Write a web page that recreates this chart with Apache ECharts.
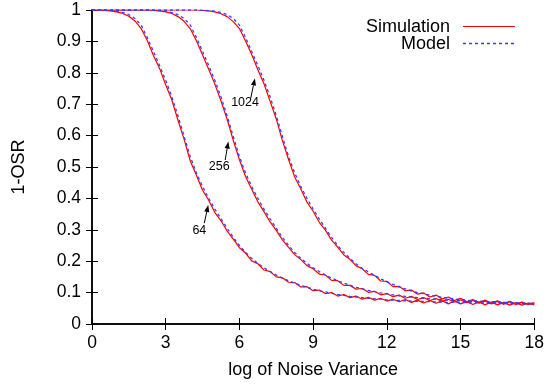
<!DOCTYPE html>
<html>
<head>
<meta charset="utf-8">
<script src="https://cdn.jsdelivr.net/npm/echarts@6/dist/echarts.min.js"></script>
<style>html,body{margin:0;padding:0;background:#fff}#c{width:547px;height:388px}</style>
</head>
<body>
<div id="c"></div>
<script>
// ---- data ----
const xs = [0,0.25,0.5,0.75,1,1.25,1.5,1.75,2,2.25,2.5,2.75,3,3.25,3.5,3.75,4,4.25,4.5,4.75,5,5.25,5.5,5.75,6,6.25,6.5,6.75,7,7.25,7.5,7.75,8,8.25,8.5,8.75,9,9.25,9.5,9.75,10,10.25,10.5,10.75,11,11.25,11.5,11.75,12,12.25,12.5,12.75,13,13.25,13.5,13.75,14,14.25,14.5,14.75,15,15.25,15.5,15.75,16,16.25,16.5,16.75,17,17.25,17.5,17.75,18];

const model64 = [1.000,1.000,0.999,0.998,0.996,0.992,0.985,0.973,0.952,0.912,0.868,0.823,0.776,0.723,0.663,0.597,0.533,0.481,0.438,0.400,0.366,0.335,0.305,0.276,0.250,0.228,0.209,0.193,0.179,0.167,0.156,0.146,0.138,0.130,0.123,0.117,0.111,0.106,0.102,0.098,0.094,0.091,0.088,0.086,0.084,0.082,0.080,0.079,0.077,0.076,0.075,0.074,0.073,0.072,0.072,0.071,0.070,0.070,0.069,0.069,0.068,0.068,0.067,0.067,0.066,0.066,0.066,0.065,0.065,0.065,0.064,0.064,0.064];

const sim64 = [1.000,1.000,0.999,0.997,0.994,0.989,0.980,0.965,0.941,0.903,0.855,0.814,0.762,0.713,0.649,0.588,0.519,0.474,0.426,0.394,0.355,0.329,0.296,0.270,0.243,0.226,0.201,0.192,0.172,0.167,0.150,0.147,0.133,0.132,0.118,0.119,0.106,0.108,0.097,0.100,0.089,0.094,0.084,0.089,0.079,0.085,0.076,0.082,0.073,0.079,0.071,0.078,0.069,0.076,0.067,0.075,0.066,0.074,0.064,0.073,0.064,0.072,0.062,0.071,0.061,0.070,0.061,0.069,0.060,0.068,0.060,0.067,0.061];

const model256 = [1.000,1.000,1.000,1.000,1.000,1.000,1.000,1.000,1.000,1.000,0.999,0.998,0.996,0.992,0.985,0.973,0.952,0.912,0.868,0.823,0.776,0.723,0.663,0.597,0.533,0.481,0.438,0.400,0.366,0.335,0.305,0.276,0.250,0.228,0.209,0.193,0.179,0.167,0.156,0.146,0.138,0.130,0.123,0.117,0.112,0.107,0.103,0.099,0.096,0.093,0.090,0.088,0.086,0.084,0.082,0.080,0.079,0.077,0.076,0.075,0.074,0.073,0.072,0.071,0.070,0.069,0.069,0.068,0.067,0.067,0.066,0.066,0.065];

const sim256 = [1.000,1.000,1.000,1.000,1.000,1.000,1.000,1.000,1.000,1.000,0.999,0.997,0.994,0.989,0.979,0.964,0.940,0.902,0.857,0.811,0.764,0.710,0.652,0.585,0.523,0.470,0.429,0.389,0.358,0.325,0.298,0.268,0.244,0.221,0.205,0.186,0.176,0.159,0.156,0.139,0.138,0.123,0.123,0.111,0.113,0.101,0.104,0.093,0.097,0.087,0.092,0.082,0.088,0.078,0.084,0.075,0.081,0.072,0.079,0.070,0.077,0.068,0.075,0.066,0.073,0.064,0.072,0.063,0.071,0.062,0.069,0.062,0.067];

const model1024 = [1.000,1.000,1.000,1.000,1.000,1.000,1.000,1.000,1.000,1.000,1.000,1.000,1.000,1.000,1.000,1.000,1.000,1.000,0.999,0.998,0.996,0.992,0.985,0.973,0.952,0.912,0.868,0.823,0.776,0.723,0.663,0.597,0.533,0.481,0.438,0.400,0.366,0.335,0.305,0.276,0.250,0.228,0.209,0.192,0.177,0.166,0.155,0.144,0.134,0.126,0.118,0.112,0.105,0.100,0.096,0.092,0.088,0.085,0.082,0.080,0.078,0.076,0.074,0.073,0.072,0.071,0.070,0.069,0.068,0.067,0.066,0.066,0.065];

const sim1024 = [1.000,1.000,1.000,1.000,1.000,1.000,1.000,1.000,1.000,1.000,1.000,1.000,1.000,1.000,1.000,1.000,1.000,1.000,0.999,0.997,0.994,0.988,0.979,0.963,0.941,0.901,0.858,0.810,0.765,0.709,0.653,0.584,0.524,0.468,0.430,0.388,0.359,0.324,0.299,0.267,0.245,0.220,0.206,0.185,0.176,0.158,0.155,0.137,0.136,0.119,0.120,0.106,0.108,0.095,0.099,0.086,0.092,0.080,0.086,0.075,0.082,0.071,0.078,0.068,0.076,0.066,0.074,0.064,0.072,0.063,0.070,0.062,0.068];

const annotLabels = ['64', '256', '1024'];
const arrowTail = [[4.57, 0.321], [5.42, 0.522], [6.46, 0.719]];
const arrowHead = [[4.73, 0.379], [5.55, 0.581], [6.63, 0.782]];
const labelAt  = [[4.37, 0.299], [5.18, 0.501], [6.23, 0.704]];

const legendNames = ['Simulation', 'Model'];

// ---- chart ----
const FONT = 'Liberation Sans, Arial, Helvetica, sans-serif';
const RED = '#ff0000', BLUE = '#3a3aff';
const chart = echarts.init(document.getElementById('c'), null, {renderer: 'canvas'});
const pair = arr => xs.map((x, i) => [x, arr[i]]);

function simSeries(arr) {
  return {type: 'line', data: pair(arr), showSymbol: false, symbol: 'none', animation: false,
    lineStyle: {color: RED, width: 1.2}, z: 2};
}
function modelSeries(arr) {
  return {type: 'line', data: pair(arr), showSymbol: false, symbol: 'none', animation: false,
    lineStyle: {color: BLUE, width: 1.3, type: [3, 3]}, z: 3};
}

const axisCommon = {
  axisLine: {show: true, lineStyle: {color: '#000', width: 1.5}},
  axisTick: {show: true, inside: true, length: 6, lineStyle: {color: '#000', width: 1}},
  splitLine: {show: false}
};

chart.setOption({
  animation: false,
  backgroundColor: '#fff',
  grid: {left: 92, right: 10, top: 10, bottom: 64, containLabel: false},
  xAxis: [
    Object.assign({type: 'value', min: 0, max: 18, interval: 3, position: 'bottom',
      name: 'log of Noise Variance', nameLocation: 'middle', nameGap: 37,
      nameTextStyle: {fontFamily: FONT, fontSize: 18, color: '#000'},
      axisLabel: {fontFamily: FONT, fontSize: 17.5, color: '#000', margin: 10}}, axisCommon),
    Object.assign({type: 'value', min: 0, max: 18, interval: 3, position: 'top',
      axisLabel: {show: false}}, axisCommon)
  ],
  yAxis: [
    Object.assign({type: 'value', min: 0, max: 1, interval: 0.1, position: 'left',
      name: '1-OSR', nameLocation: 'middle', nameGap: 64, nameRotate: 90,
      nameTextStyle: {fontFamily: FONT, fontSize: 18, color: '#000'},
      axisLabel: {fontFamily: FONT, fontSize: 17.5, color: '#000', margin: 11,
        formatter: v => String(Math.round(v * 10) / 10)}}, axisCommon),
    Object.assign({type: 'value', min: 0, max: 1, interval: 0.1, position: 'right',
      axisLabel: {show: false}}, axisCommon)
  ],
  series: [
    simSeries(sim64), simSeries(sim256), simSeries(sim1024),
    modelSeries(model64), modelSeries(model256), modelSeries(model1024)
  ]
});

// annotations & legend
const g = [];
for (let i = 0; i < annotLabels.length; i++) {
  const t = chart.convertToPixel({gridIndex: 0}, arrowTail[i]);
  const h = chart.convertToPixel({gridIndex: 0}, arrowHead[i]);
  const l = chart.convertToPixel({gridIndex: 0}, labelAt[i]);
  const dx = h[0] - t[0], dy = h[1] - t[1];
  const len = Math.sqrt(dx * dx + dy * dy);
  const ux = dx / len, uy = dy / len;
  const hl = 7, hw = 2.6;
  const bx = h[0] - ux * hl, by = h[1] - uy * hl;
  g.push({type: 'line', shape: {x1: t[0], y1: t[1], x2: bx, y2: by}, style: {stroke: '#000', lineWidth: 1}, z: 10});
  g.push({type: 'polygon', shape: {points: [[h[0], h[1]], [bx - uy * hw, by + ux * hw], [bx + uy * hw, by - ux * hw]]},
    style: {fill: '#000'}, z: 10});
  g.push({type: 'text', x: l[0], y: l[1], style: {text: annotLabels[i], fontFamily: FONT, fontSize: 12.5,
    fill: '#000', align: 'center', verticalAlign: 'middle'}, z: 10});
}
// legend
g.push({type: 'text', x: 450, y: 27, style: {text: legendNames[0], fontFamily: FONT, fontSize: 18, fill: '#000', align: 'right', verticalAlign: 'middle'}, z: 10});
g.push({type: 'line', shape: {x1: 463, y1: 26.5, x2: 515, y2: 26.5}, style: {stroke: RED, lineWidth: 1.2}, z: 10});
g.push({type: 'text', x: 450, y: 44.5, style: {text: legendNames[1], fontFamily: FONT, fontSize: 18, fill: '#000', align: 'right', verticalAlign: 'middle'}, z: 10});
g.push({type: 'line', shape: {x1: 463, y1: 43.5, x2: 515, y2: 43.5}, style: {stroke: BLUE, lineWidth: 1.3, lineDash: [3, 3]}, z: 10});
chart.setOption({graphic: g});
</script>
</body>
</html>
